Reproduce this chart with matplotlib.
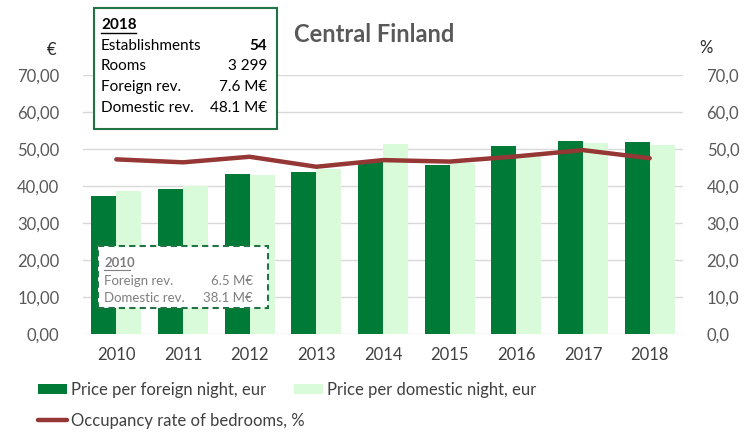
import matplotlib
matplotlib.use('Agg')
import matplotlib.pyplot as plt
from matplotlib.patches import Rectangle, Patch
from matplotlib.lines import Line2D
from matplotlib.ticker import FuncFormatter
import numpy as np

plt.rcParams['font.family'] = ['Lato', 'DejaVu Sans']

# data
years = ['2010', '2011', '2012', '2013', '2014', '2015', '2016', '2017', '2018']
foreign = [37.3, 39.2, 43.2, 43.8, 46.6, 45.8, 50.9, 52.2, 51.8]
domestic = [38.7, 40.1, 43.0, 44.6, 51.4, 46.3, 48.7, 51.7, 51.1]
occupancy = [47.2, 46.4, 47.9, 45.2, 47.0, 46.6, 48.0, 49.7, 47.5]

box2018_rows = [('Establishments', '54'), ('Rooms', '3 299'),
                ('Foreign rev.', '7.6 M€'), ('Domestic rev.', '48.1 M€')]
box2010_rows = [('Foreign rev.', '6.5 M€'), ('Domestic rev.', '38.1 M€')]

DARK = '#007A37'
LIGHT = '#DAFBDA'
RED = '#953735'
GRID = '#D9D9D9'
TXT = '#595959'

W, H = 748, 443
fig = plt.figure(figsize=(W / 100, H / 100), dpi=100)


def fx(x):
    return x / W


def fy(y):
    return 1 - y / H


ax = fig.add_axes([fx(83), fy(334), fx(683) - fx(83), fy(75) - fy(334)])
x = np.arange(len(years))
bw = 0.375
ax.bar(x - bw / 2, foreign, bw, color=DARK, zorder=2)
ax.bar(x + bw / 2, domestic, bw, color=LIGHT, zorder=2)
ax.set_xlim(-0.5, len(years) - 0.5)
ax.set_ylim(0, 70)
ax.set_yticks(np.arange(0, 71, 10))
ax.yaxis.set_major_formatter(FuncFormatter(lambda v, p: f'{v:.2f}'.replace('.', ',')))
ax.set_xticks(x)
ax.set_xticklabels(years)
ax.grid(axis='y', color=GRID, lw=1, zorder=0)
ax.set_axisbelow(True)
for s in ax.spines.values():
    s.set_visible(False)
ax.tick_params(axis='y', length=0, pad=17, labelsize=12, labelcolor=TXT)
ax.tick_params(axis='x', length=0, pad=9, labelsize=12, labelcolor='#404040')

ax2 = ax.twinx()
ax2.plot(x, occupancy, color=RED, lw=3.2, solid_capstyle='round', zorder=5)
ax2.set_ylim(0, 70)
ax2.set_yticks(np.arange(0, 71, 10))
ax2.yaxis.set_major_formatter(FuncFormatter(lambda v, p: f'{v:.1f}'.replace('.', ',')))
for s in ax2.spines.values():
    s.set_visible(False)
ax2.tick_params(axis='y', length=0, pad=17, labelsize=12, labelcolor=TXT)

fig.text(fx(52), fy(50), '€', fontsize=12, color='#262626', ha='center', va='center')
fig.text(fx(706), fy(48), '%', fontsize=12, color='#262626', ha='center', va='center')
fig.text(fx(374), fy(34), 'Central Finland', fontsize=17, fontweight='bold',
         color=TXT, ha='center', va='center')

# 2018 info box
fig.patches.append(Rectangle((fx(94), fy(129)), fx(277) - fx(94), fy(8) - fy(129),
                             transform=fig.transFigure, facecolor='white',
                             edgecolor='#217346', lw=1.5, zorder=10))
fig.text(fx(101), fy(25), '2018', fontsize=11, fontweight='bold', ha='left', va='center', zorder=11)
fig.lines.append(Line2D([fx(101), fx(136)], [fy(33), fy(33)], transform=fig.transFigure,
                        color='black', lw=1, zorder=11))
for i, (k, v) in enumerate(box2018_rows):
    yy = fy(46 + i * 20.5)
    fig.text(fx(101), yy, k, fontsize=11, ha='left', va='center', zorder=11)
    fig.text(fx(267), yy, v, fontsize=11, ha='right', va='center', zorder=11,
             fontweight='bold' if i == 0 else 'normal')

# 2010 info box
box = Rectangle((-0.27, 7), 2.55, 16.8, facecolor='white', edgecolor='#217346',
                lw=1.5, ls=(0, (3, 2)), zorder=8)
ax2.add_patch(box)
fig.text(fx(104), fy(263), '2010', fontsize=9.5, fontweight='bold', color='#7F7F7F',
         ha='left', va='center', zorder=11)
fig.lines.append(Line2D([fx(104), fx(130)], [fy(270), fy(270)], transform=fig.transFigure,
                        color='#7F7F7F', lw=0.8, zorder=11))
for i, (k, v) in enumerate(box2010_rows):
    yy = fy(281 + i * 17)
    fig.text(fx(104), yy, k, fontsize=9.5, color='#7F7F7F', ha='left', va='center', zorder=11)
    fig.text(fx(253), yy, v, fontsize=9.5, color='#7F7F7F', ha='right', va='center', zorder=11)

# legend
leg_kw = dict(frameon=False, fontsize=12, labelcolor='#404040', handlelength=1.75,
              handleheight=0.6, handletextpad=0.25, borderaxespad=0, borderpad=0)
h1 = Patch(facecolor=DARK)
h2 = Patch(facecolor=LIGHT)
h3 = Line2D([], [], color=RED, lw=3.2, solid_capstyle='round')
fig.legend([h1, h3], ['Price per foreign night, eur', 'Occupancy rate of bedrooms, %'],
           loc='upper left', bbox_to_anchor=(fx(38), fy(382)), labelspacing=0.9, **leg_kw)
fig.legend([h2], ['Price per domestic night, eur'],
           loc='upper left', bbox_to_anchor=(fx(294), fy(382)), **leg_kw)

fig.savefig('out.png', dpi=100)
